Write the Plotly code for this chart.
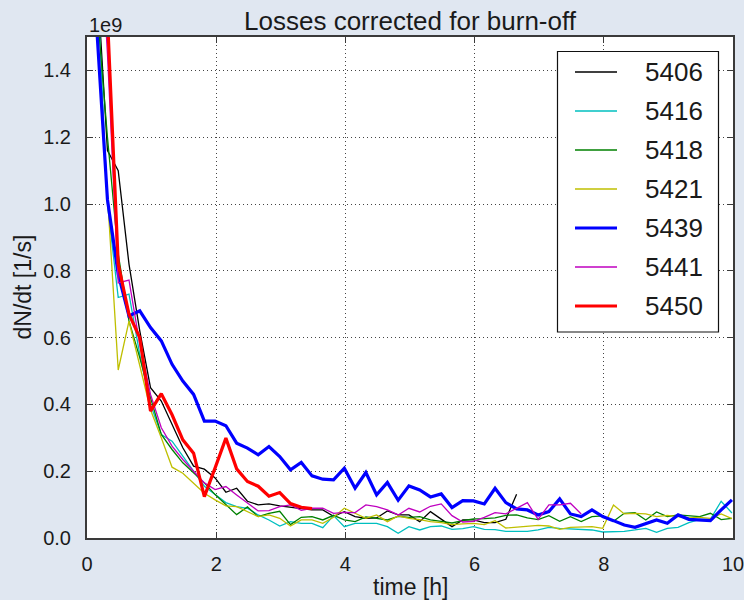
import plotly.graph_objects as go

# Loss estimates are sampled every 10 minutes, starting shortly after t = 0
T_START_H = 0.15
T_STEP_H = 1 / 6

# dN/dt per fill, in units of 1e9 particles per second
loss_5406 = [1.70, 1.16, 1.10, 0.82, 0.62, 0.45, 0.41, 0.34, 0.27, 0.215,
             0.206, 0.18, 0.137, 0.149, 0.11, 0.099, 0.102, 0.096, 0.092, 0.086,
             0.084, 0.084, 0.065, 0.079, 0.064, 0.059, 0.06, 0.081, 0.069, 0.069,
             0.049, 0.079, 0.056, 0.034, 0.054, 0.054, 0.046, 0.046, 0.056, 0.131]
loss_5416 = [1.70, 1.00, 0.72, 0.73, 0.55, 0.40, 0.31, 0.29, 0.245, 0.20,
             0.155, 0.13, 0.106, 0.094, 0.089, 0.069, 0.054, 0.036, 0.049, 0.044,
             0.044, 0.031, 0.067, 0.034, 0.044, 0.044, 0.044, 0.034, 0.014, 0.034,
             0.024, 0.034, 0.036, 0.026, 0.028, 0.034, 0.026, 0.025, 0.02, 0.02,
             0.02, 0.024, 0.032, 0.029, 0.028, 0.026, 0.024, 0.018, 0.019, 0.02,
             0.024, 0.029, 0.017, 0.029, 0.032, 0.046, 0.056, 0.056, 0.11, 0.075]
loss_5418 = [1.60, 1.20, 0.85, 0.65, 0.54, 0.42, 0.31, 0.265, 0.225, 0.195,
             0.165, 0.13, 0.10, 0.07, 0.093, 0.064, 0.074, 0.08, 0.04, 0.062,
             0.064, 0.054, 0.068, 0.054, 0.049, 0.063, 0.059, 0.054, 0.065, 0.062,
             0.064, 0.054, 0.05, 0.045, 0.052, 0.057, 0.058, 0.06, 0.068, 0.069,
             0.06, 0.055, 0.067, 0.05, 0.064, 0.049, 0.064, 0.066, 0.05, 0.074,
             0.076, 0.054, 0.078, 0.064, 0.069, 0.066, 0.064, 0.074, 0.055, 0.059]
loss_5421 = [1.55, 1.03, 0.503, 0.649, 0.52, 0.384, 0.30, 0.212, 0.194, 0.164,
             0.134, 0.114, 0.096, 0.094, 0.079, 0.064, 0.069, 0.059, 0.036, 0.054,
             0.054, 0.044, 0.062, 0.089, 0.074, 0.059, 0.069, 0.049, 0.066, 0.059,
             0.055, 0.049, 0.046, 0.04, 0.042, 0.044, 0.04, 0.052, 0.03, 0.032,
             0.035, 0.038, 0.036, 0.026, 0.032, 0.034, 0.034, 0.029, 0.099, 0.072,
             0.074, 0.072, 0.064, 0.068, 0.064, 0.06, 0.062, 0.059, 0.072, 0.058]
loss_5439 = [1.53, 1.013, 0.79, 0.665, 0.68, 0.63, 0.59, 0.52, 0.47, 0.43,
             0.35, 0.35, 0.336, 0.284, 0.269, 0.249, 0.274, 0.244, 0.204, 0.226,
             0.186, 0.176, 0.174, 0.209, 0.149, 0.196, 0.129, 0.166, 0.113, 0.156,
             0.144, 0.123, 0.132, 0.091, 0.112, 0.111, 0.102, 0.149, 0.106, 0.087,
             0.084, 0.069, 0.079, 0.117, 0.072, 0.064, 0.084, 0.064, 0.052, 0.039,
             0.032, 0.042, 0.054, 0.044, 0.069, 0.056, 0.054, 0.052, 0.084, 0.114]
loss_5441 = [2.00, 1.45, 0.764, 0.772, 0.58, 0.43, 0.33, 0.275, 0.235, 0.20,
             0.165, 0.145, 0.154, 0.129, 0.104, 0.081, 0.082, 0.094, 0.099, 0.083,
             0.089, 0.089, 0.074, 0.077, 0.076, 0.099, 0.094, 0.084, 0.069, 0.089,
             0.078, 0.095, 0.102, 0.067, 0.048, 0.05, 0.062, 0.076, 0.072, 0.088,
             0.106, 0.056, 0.099, 0.099, 0.104, 0.072]
loss_5450 = [1.56, 0.82, 0.67, 0.60, 0.38, 0.432, 0.369, 0.294, 0.254, 0.124,
             0.21, 0.299, 0.207, 0.169, 0.155, 0.125, 0.136, 0.103, 0.092, 0.088]

fills = ["5406", "5416", "5418", "5421", "5439", "5441", "5450"]
losses = [loss_5406, loss_5416, loss_5418, loss_5421, loss_5439, loss_5441, loss_5450]
first_sample = [0, 0, 0, 0, 0, 0, 1]
colors = ["#000000", "#00bfbf", "#008000", "#bfbf00", "#0000ff", "#bf00bf", "#ff0000"]
widths = [1.3, 1.3, 1.3, 1.3, 3.2, 1.3, 3.2]

x_ticks = [0, 2, 4, 6, 8, 10]
y_ticks = [0.0, 0.2, 0.4, 0.6, 0.8, 1.0, 1.2, 1.4]
SCALE = 1e9

FONT = "Liberation Sans, Arial, sans-serif"
INK = "#1a1a1a"
FRAME = "#3a3a3a"

fig = go.Figure()
for name, vals, k0, col, w in zip(fills, losses, first_sample, colors, widths):
    t = [T_START_H + (k0 + i) * T_STEP_H for i in range(len(vals))]
    fig.add_trace(go.Scatter(
        x=t, y=[v * SCALE for v in vals], mode="lines", name=name,
        line=dict(color=col, width=w), showlegend=False, hoverinfo="skip",
    ))

# Plot-area geometry in pixels (used for the boxed legend in paper units)
W, H = 744, 600
ML, MR, MT, MB = 87, 11, 37, 62
PW, PH = W - ML - MR, H - MT - MB


def px_x(p):
    return (p - ML) / PW


def px_y(p):
    return (H - MB - p) / PH


shapes = [dict(type="rect", xref="paper", yref="paper",
               x0=px_x(557.5), x1=px_x(718.5), y0=px_y(332), y1=px_y(51.5),
               fillcolor="white", line=dict(color="#111111", width=1.2), layer="above")]
annotations = []
for i, (name, col, w) in enumerate(zip(fills, colors, widths)):
    yc = 72 + 39 * i
    shapes.append(dict(type="line", xref="paper", yref="paper",
                       x0=px_x(575), x1=px_x(617), y0=px_y(yc), y1=px_y(yc),
                       line=dict(color=col, width=w), layer="above"))
    annotations.append(dict(xref="paper", yref="paper", x=px_x(643), y=px_y(yc),
                            text=name, showarrow=False, xanchor="left", yanchor="middle",
                            font=dict(family=FONT, size=26, color=INK)))

annotations += [
    dict(xref="paper", yref="paper", x=0, y=px_y(25), text="1e9", showarrow=False,
         xanchor="left", yanchor="middle", font=dict(family=FONT, size=20, color=INK)),
    dict(xref="paper", yref="paper", x=0.5, y=px_y(587), text="time [h]", showarrow=False,
         xanchor="center", yanchor="middle", font=dict(family=FONT, size=23, color=INK)),
    dict(xref="paper", yref="paper", x=px_x(22), y=0.5, text="dN/dt [1/s]", showarrow=False,
         textangle=-90, xanchor="center", yanchor="middle",
         font=dict(family=FONT, size=23, color=INK)),
]

axis_common = dict(
    showline=True, linecolor=FRAME, linewidth=2, mirror="allticks",
    ticks="inside", ticklen=6, tickwidth=1, tickcolor=FRAME,
    showgrid=True, gridcolor="#444444", griddash="1px,3px", gridwidth=1,
    zeroline=False, automargin=False, ticklabeloverflow="allow",
    tickfont=dict(family=FONT, size=20, color=INK),
)

fig.update_layout(
    width=W, height=H,
    margin=dict(l=ML, r=MR, t=MT, b=MB, autoexpand=False),
    paper_bgcolor="#e0e7f1", plot_bgcolor="white",
    title=dict(text="Losses corrected for burn-off", x=(ML + PW / 2) / W,
               xanchor="center", yref="container", y=1 - 21 / H, yanchor="middle",
               font=dict(family=FONT, size=26, color=INK)),
    xaxis=dict(range=[0, 10], tickvals=x_ticks, ticktext=[str(v) for v in x_ticks],
               ticklabelstandoff=7, **axis_common),
    yaxis=dict(range=[0, 1.5 * SCALE], tickvals=[v * SCALE for v in y_ticks],
               ticktext=[f"{v:.1f}" for v in y_ticks], ticklabelstandoff=10, **axis_common),
    shapes=shapes, annotations=annotations, showlegend=False,
)

fig.write_html("out.html")
